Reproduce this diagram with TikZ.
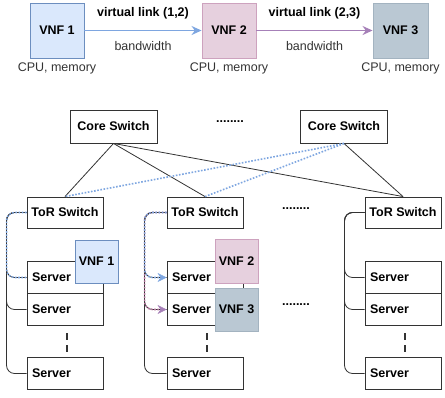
\documentclass[tikz,border=0pt]{standalone}
\usepackage{fontspec}
\setmainfont{Liberation Sans}
\usetikzlibrary{arrows.meta}
\definecolor{vnfAfill}{HTML}{DAE8FC}
\definecolor{vnfAdraw}{HTML}{6C8EBF}
\definecolor{vnfBfill}{HTML}{E6D0DE}
\definecolor{vnfBdraw}{HTML}{CDA2BE}
\definecolor{vnfCfill}{HTML}{BAC8D3}
\definecolor{vnfCdraw}{HTML}{A3B3C0}
\definecolor{linkA}{HTML}{7EA6E0}
\definecolor{linkB}{HTML}{A680B8}
\definecolor{linkBdot}{HTML}{B5739D}
\definecolor{edgegray}{HTML}{333333}
\tikzset{
  box/.style={draw=edgegray, line width=0.9pt, fill=white, font=\fontsize{12.5}{14}\selectfont\bfseries, inner sep=0pt},
  swbox/.style={box, minimum width=76pt, minimum height=31pt},
  corebox/.style={box, minimum width=87pt, minimum height=33pt},
  srvbox/.style={box, text width=66pt, inner xsep=5pt, minimum height=32pt, align=left},
  vnfbox/.style={draw, line width=0.9pt, font=\fontsize{12.5}{14}\selectfont\bfseries, inner sep=0pt},
  plain/.style={font=\fontsize{12.5}{14}\selectfont, text=edgegray},
  lbl/.style={font=\fontsize{12.5}{14}\selectfont\bfseries},
  wire/.style={draw=edgegray, line width=0.8pt},
  tree/.style={draw=edgegray, line width=0.8pt, rounded corners=8pt},
  dotA/.style={draw=linkA, line width=1.6pt, dash pattern=on 1.6pt off 1.6pt},
  dotB/.style={draw=linkBdot, line width=1.6pt, dash pattern=on 1.6pt off 1.6pt},
  vdash/.style={draw=edgegray, line width=1.8pt, dash pattern=on 7pt off 5pt},
  dots/.style={font=\fontsize{12.5}{14}\selectfont\bfseries}
}
\begin{document}
\begin{tikzpicture}[x=1pt,y=-1pt]
\useasboundingbox (0,0) rectangle (445,397);
% top row
\node[vnfbox, fill=vnfAfill, draw=vnfAdraw, minimum width=54pt, minimum height=55pt] (v1) at (57,30.5) {VNF 1};
\node[vnfbox, fill=vnfBfill, draw=vnfBdraw, minimum width=54pt, minimum height=55pt] (v2) at (229,30.5) {VNF 2};
\node[vnfbox, fill=vnfCfill, draw=vnfCdraw, minimum width=55pt, minimum height=55pt] (v3) at (400.5,30.5) {VNF 3};
\node[plain] (c1) at (57,68) {CPU, memory};
\node[plain] (c2) at (229,68) {CPU, memory};
\node[plain] (c3) at (400.5,68) {CPU, memory};
\draw[draw=linkA, line width=1.8pt, -{Stealth[length=10pt,width=9pt]}] (v1) -- (v2)
  node[midway, above=7pt, lbl] (l1) {virtual link (1,2)}
  node[midway, below=7pt, plain] (b1) {bandwidth};
\draw[draw=linkB, line width=1.8pt, -{Stealth[length=10pt,width=9pt]}] (v2) -- (v3)
  node[midway, above=7pt, lbl] (l2) {virtual link (2,3)}
  node[midway, below=7pt, plain] (b2) {bandwidth};
% core
\node[corebox] (core1) at (113.5,126.5) {Core Switch};
\node[corebox] (core2) at (344,126.5) {Core Switch};
\node[dots] (d1) at (230,122) {........};
% tor
\node[swbox] (t1) at (65,212.5) {ToR Switch};
\node[swbox] (t2) at (205,212.5) {ToR Switch};
\node[swbox] (t3) at (403,212.5) {ToR Switch};
\node[dots] (d2) at (296,209) {........};
\draw[wire] (core1.south) -- (t1.north);
\draw[wire] (core1.south) -- (t2.north);
\draw[wire] (core1.south) -- (t3.north);
\draw[wire] (core2.south) -- (t3.north);
\draw[dotA] (core2.south) -- (t1.north);
\draw[dotA] (core2.south) -- (t2.north);
% servers
\foreach \t/\x in {1/65, 2/205, 3/403} {
  \node[srvbox] (s\t a) at (\x,277.5) {Server};
  \node[srvbox] (s\t b) at (\x,309.5) {Server};
  \node[srvbox] (s\t c) at (\x,373.5) {Server};
  \coordinate (k\t top) at (\x+2,333);
  \coordinate (k\t bot) at (\x+2,353);
  \draw[vdash] (k\t top) -- (k\t bot);
}
% tree connectors
\foreach \t/\o in {1/-20, 2/-22, 3/-20} {
  \draw[tree] (t\t.west) -- ++(\o,0) |- (s\t a.west);
  \draw[tree] (t\t.west) -- ++(\o,0) |- (s\t b.west);
  \draw[tree] (t\t.west) -- ++(\o,0) |- (s\t c.west);
}
\draw[dotA, rounded corners=8pt] (t1.west) -- ++(-20,0) |- (s1a.west);
\draw[dotB, rounded corners=8pt, -{Stealth[length=9pt,width=9pt,color=linkB,fill=linkB,line width=0.5pt]}] (t2.west) -- ++(-22,0) |- (s2b.west);
\draw[dotA, rounded corners=8pt, -{Stealth[length=9pt,width=9pt,color=linkA,fill=linkA,line width=0.5pt]}] (t2.west) -- ++(-22,0) |- (s2a.west);
\node[dots] (d3) at (296,305) {........};
% VNFs placed on servers
\node[vnfbox, fill=vnfAfill, draw=vnfAdraw, minimum width=43pt, minimum height=43pt] (p1) at (96.5,261.5) {VNF 1};
\node[vnfbox, fill=vnfBfill, draw=vnfBdraw, minimum width=43pt, minimum height=44pt] (p2) at (236.5,261) {VNF 2};
\node[vnfbox, fill=vnfCfill, draw=vnfCdraw, minimum width=43pt, minimum height=43pt] (p3) at (236.5,309.5) {VNF 3};
\end{tikzpicture}
\end{document}
